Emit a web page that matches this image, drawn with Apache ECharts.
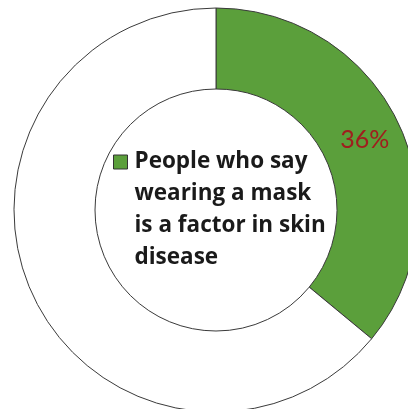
<!DOCTYPE html>
<html>
<head>
<meta charset="utf-8">
<script src="https://cdn.jsdelivr.net/npm/echarts@6/dist/echarts.min.js"></script>
<style>html,body{margin:0;padding:0;background:#fff;}#c{width:408px;height:409px;}</style>
</head>
<body>
<div id="c"></div>
<script>
const categories = ['People who say wearing a mask is a factor in skin disease', 'Others'];
const values = [36, 64];
const legendLines = ['People who say', 'wearing a mask', 'is a factor in skin', 'disease'];

const chart = echarts.init(document.getElementById('c'), null, {renderer: 'canvas'});
chart.setOption({
  animation: false,
  backgroundColor: '#ffffff',
  legend: {
    data: [categories[0]],
    orient: 'vertical',
    left: 113,
    top: 50,
    padding: 0,
    icon: 'rect',
    itemWidth: 14,
    itemHeight: 14,
    itemGap: 0,
    itemStyle: {borderColor: '#333333', borderWidth: 1},
    formatter: function () { return '\n\n\n' + legendLines.join('\n'); },
    textStyle: {
      fontFamily: 'Open Sans',
      fontWeight: 'bold',
      fontSize: 22.5,
      color: '#1a1a1a',
      lineHeight: 32,
      padding: [0, 0, 0, 2]
    }
  },
  series: [{
    type: 'pie',
    center: [216, 210],
    radius: [121, 202],
    startAngle: 90,
    clockwise: true,
    silent: true,
    itemStyle: {borderColor: '#3a3a3a', borderWidth: 1},
    label: {
      show: true,
      position: 'inside',
      formatter: '{c}%',
      fontFamily: 'Lato',
      fontWeight: 'normal',
      fontSize: 25,
      color: '#a01e1e',
      padding: [6, 0, 0, 0]
    },
    labelLine: {show: false},
    data: [
      {name: categories[0], value: values[0], itemStyle: {color: '#5b9f3b'}},
      {name: categories[1], value: values[1], itemStyle: {color: '#ffffff'}, label: {show: false}}
    ]
  }]
});
</script>
</body>
</html>
